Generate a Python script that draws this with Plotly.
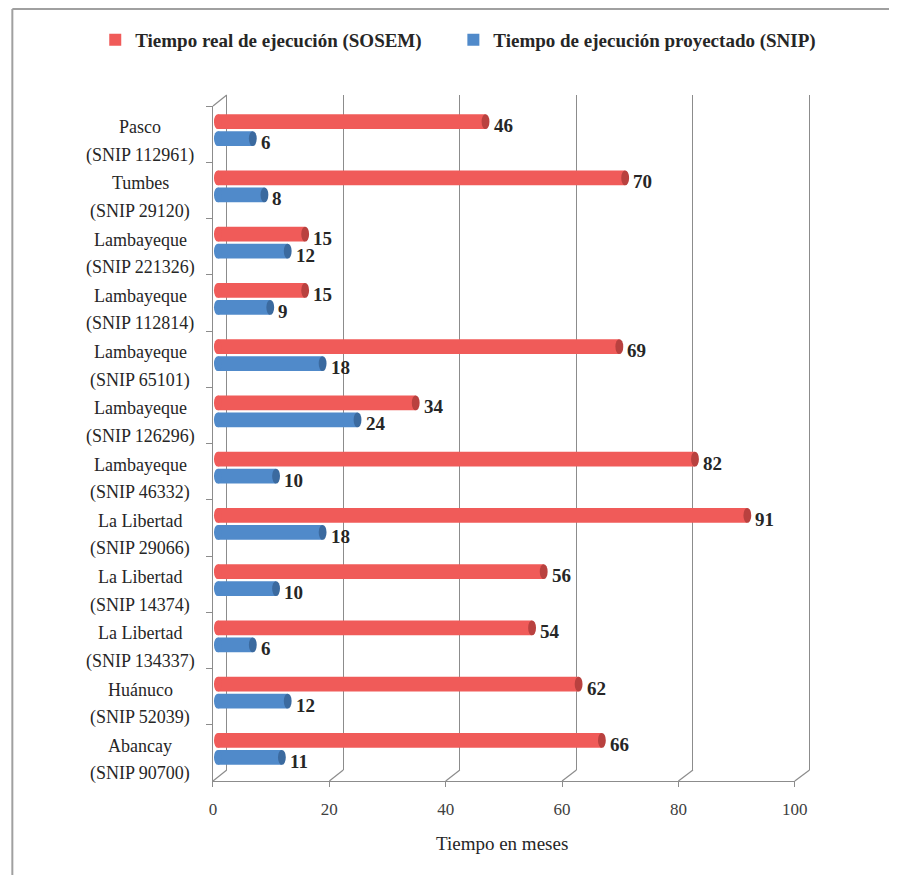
import plotly.graph_objects as go

# ---- data -------------------------------------------------------------
regions = ["Pasco", "Tumbes", "Lambayeque", "Lambayeque", "Lambayeque",
           "Lambayeque", "Lambayeque", "La Libertad", "La Libertad",
           "La Libertad", "Huánuco", "Abancay"]
snip_codes = ["112961", "29120", "221326", "112814", "65101", "126296",
              "46332", "29066", "14374", "134337", "52039", "90700"]
tiempo_real = [46, 70, 15, 15, 69, 34, 82, 91, 56, 54, 62, 66]        # SOSEM
tiempo_proyectado = [6, 8, 12, 9, 18, 24, 10, 18, 10, 6, 12, 11]     # SNIP
x_ticks = [0, 20, 40, 60, 80, 100]

series_names = ["Tiempo real de ejecución (SOSEM)",
                "Tiempo de ejecución proyectado (SNIP)"]

# ---- styling ----------------------------------------------------------
W, H = 902, 875
FONT = "Liberation Serif"
TXT = "#262626"
AXC = "#8C8C8C"
RED, RED_CAP = "#F05B59", "#B9413F"
BLUE, BLUE_CAP = "#508ACA", "#3B6A9F"

def fx(p):
    return p / W

def fy(p):
    return 1 - p / H

# three depth planes of the pseudo-3D box: (x at 0, x at 100, top, bottom)
FRONT = (213, 806, 106, 781)
MID = (218, 811, 102, 777)
BACK = (227, 821, 95, 770)
XMIN = -2.0
mid_scale = (MID[1] - MID[0]) / 100.0
back_scale = (BACK[1] - BACK[0]) / 100.0
EPS = 0.4  # keeps the 0 and 100 wall lines clear of the grid axis ends

cats = [f"{r}|{c}" for r, c in zip(regions, snip_codes)]
n = len(cats)
cat_range = [n - 0.5, -0.5]

SLOT = 0.151      # distance of each cylinder centre from the category centre
BAR_W = 0.266     # cylinder thickness (category units)
CAP_RX = 4.0 / mid_scale

fig = go.Figure()

# back wall grid (subplot xy)
fig.add_trace(go.Scatter(x=[0], y=[0], mode="markers", marker=dict(opacity=0),
                         hoverinfo="skip", showlegend=False, xaxis="x", yaxis="y"))
# front floor axis and side wall (subplot x2y2)
fig.add_trace(go.Scatter(x=[0], y=[cats[0]], mode="markers", marker=dict(opacity=0),
                         hoverinfo="skip", showlegend=False, xaxis="x2", yaxis="y2"))

series = [
    (tiempo_real, series_names[0], RED, RED_CAP, -SLOT, "legend"),
    (tiempo_proyectado, series_names[1], BLUE, BLUE_CAP, SLOT, "legend2"),
]

shapes = []
annotations = []

for vals, name, col, cap, centre, leg in series:
    off = centre - BAR_W / 2
    fig.add_trace(go.Bar(
        x=vals, y=cats, orientation="h", name=name, legend=leg,
        width=BAR_W, offset=off,
        marker=dict(color=col, line=dict(width=0)),
        xaxis="x3", yaxis="y3",
        hovertemplate="%{x}<extra></extra>",
    ))
    for i, v in enumerate(vals):
        y0, y1 = i + off, i + off + BAR_W
        # rounded start of the cylinder
        shapes.append(dict(type="circle", xref="x3", yref="y3",
                           x0=-CAP_RX, x1=CAP_RX, y0=y0, y1=y1,
                           fillcolor=col, line=dict(width=0), layer="above"))
        # darker end cap
        shapes.append(dict(type="circle", xref="x3", yref="y3",
                           x0=v - CAP_RX, x1=v + CAP_RX, y0=y0, y1=y1,
                           fillcolor=cap, line=dict(width=0), layer="above"))
        annotations.append(dict(xref="x3", yref="y3", x=v, y=i + centre,
                                text=str(v), showarrow=False, xanchor="left",
                                xshift=6, yshift=-4,
                                font=dict(family=FONT, size=19, color=TXT,
                                          weight="bold")))

# category labels (two lines, centred)
LABEL_X = 139
for cat, r, c in zip(cats, regions, snip_codes):
    annotations.append(dict(xref="paper", yref="y2", x=fx(LABEL_X), y=cat, text=r,
                            showarrow=False, xanchor="center", yshift=7,
                            font=dict(family=FONT, size=18, color=TXT)))
    annotations.append(dict(xref="paper", yref="y2", x=fx(LABEL_X), y=cat,
                            text=f"(SNIP {c})", showarrow=False,
                            xanchor="center", yshift=-21,
                            font=dict(family=FONT, size=18, color=TXT)))

# axis title
annotations.append(dict(xref="paper", yref="paper", x=fx(508), y=fy(843),
                        yanchor="middle", text="Tiempo en meses", showarrow=False,
                        font=dict(family=FONT, size=19, color=TXT)))

# depth edges of the box
def front_x(v):
    return FRONT[0] + (FRONT[1] - FRONT[0]) * v / 100.0

def back_x(v):
    return BACK[0] + (BACK[1] - BACK[0]) * v / 100.0

for v in x_ticks:
    shapes.append(dict(type="line", xref="paper", yref="paper",
                       x0=fx(front_x(v)), y0=fy(FRONT[3]),
                       x1=fx(back_x(v)), y1=fy(BACK[3]),
                       line=dict(color=AXC, width=1.2), layer="below"))
shapes.append(dict(type="line", xref="paper", yref="paper",
                   x0=fx(front_x(0)), y0=fy(FRONT[2]),
                   x1=fx(back_x(0)), y1=fy(BACK[2]),
                   line=dict(color=AXC, width=1.2), layer="below"))

# outer frame (left and top edges)
shapes.append(dict(type="line", xref="paper", yref="paper",
                   x0=fx(8.5), y0=0, x1=fx(8.5), y1=fy(9),
                   line=dict(color="#A0A0A0", width=2)))
shapes.append(dict(type="line", xref="paper", yref="paper",
                   x0=fx(8.5), y0=fy(9), x1=1, y1=fy(9),
                   line=dict(color="#A0A0A0", width=2)))

legend_common = dict(orientation="h", xanchor="left", y=fy(21), yanchor="top",
                     font=dict(family=FONT, size=19, color=TXT, weight="bold"),
                     bgcolor="rgba(0,0,0,0)")

fig.update_layout(
    width=W, height=H,
    margin=dict(l=0, r=0, t=0, b=0),
    paper_bgcolor="white",
    plot_bgcolor="rgba(0,0,0,0)",
    barmode="overlay",
    showlegend=True,
    legend=dict(x=fx(93), **legend_common),
    legend2=dict(x=fx(458), **legend_common),
    shapes=shapes,
    annotations=annotations,
    # back wall gridlines
    xaxis=dict(domain=[fx(BACK[0] - EPS * back_scale), fx(BACK[1] + EPS * back_scale)],
               range=[-EPS, 100 + EPS],
               tickvals=x_ticks, showgrid=True, gridcolor=AXC, gridwidth=1.2,
               showticklabels=False, ticks="", zeroline=False, showline=False,
               anchor="y"),
    yaxis=dict(domain=[fy(BACK[3]), fy(BACK[2])], range=[0, 1], visible=False,
               anchor="x"),
    # front floor axis + side wall
    xaxis2=dict(domain=[fx(FRONT[0]), fx(FRONT[1])], range=[0, 100],
                tickvals=x_ticks, showgrid=False, zeroline=False,
                showline=True, linecolor=AXC, linewidth=1.2,
                ticks="outside", ticklen=5, tickcolor=AXC, tickwidth=1.2,
                ticklabelstandoff=7,
                tickfont=dict(family=FONT, size=17, color="#404040"),
                anchor="y2"),
    yaxis2=dict(domain=[fy(FRONT[3]), fy(FRONT[2])], type="category",
                categoryorder="array", categoryarray=cats, range=cat_range,
                showline=True, linecolor=AXC, linewidth=1.2,
                ticks="outside", ticklen=6, tickcolor=AXC, tickwidth=1.2,
                tickson="boundaries", showticklabels=False, showgrid=False,
                zeroline=False, anchor="x2"),
    # cylinders
    xaxis3=dict(domain=[fx(MID[0] + XMIN * mid_scale), fx(MID[1])],
                range=[XMIN, 100], visible=False, anchor="y3"),
    yaxis3=dict(domain=[fy(MID[3]), fy(MID[2])], type="category",
                categoryorder="array", categoryarray=cats, range=cat_range,
                visible=False, anchor="x3"),
)

fig.write_html("out.html")
